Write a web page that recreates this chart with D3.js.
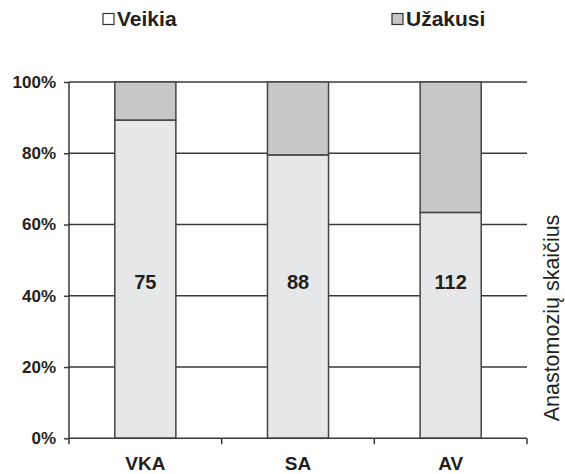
<!DOCTYPE html>
<html>
<head>
<meta charset="utf-8">
<script src="https://cdn.jsdelivr.net/npm/d3@7/dist/d3.min.js"></script>
<style>
  html, body { margin: 0; padding: 0; background: #fff; }
  text { font-family: "Liberation Sans", Arial, sans-serif; fill: #231f20; }
</style>
</head>
<body>
<svg id="chart" width="565" height="474"></svg>
<script>
// ---- data ----
const categories = ["VKA", "SA", "AV"];
const totals = [75, 88, 112];          // anastomoses per group (label)
const working = [67, 70, 71];          // "Veikia"
const blocked = [8, 18, 41];           // "Užakusi"
const yTicks = [0, 20, 40, 60, 80, 100];
const legendLabels = ["Veikia", "Užakusi"];
const axisTitle = "Anastomozių skaičius";

// ---- layout ----
const svg = d3.select("#chart");
const plotLeft = 69, plotRight = 527, plotTop = 82, plotBottom = 438.3;
const lineCol = "#3a3a3a";
const colWork = "#e6e7e8", colBlock = "#c6c7c9";

const x = d3.scaleBand().domain(categories).range([plotLeft, plotRight])
  .paddingInner(0.6).paddingOuter(0.3);
const y = d3.scaleLinear().domain([0, 100]).range([plotBottom, plotTop]);

const rows = categories.map((c, i) => ({
  cat: c, total: totals[i],
  w: working[i] / totals[i] * 100,
  b: blocked[i] / totals[i] * 100
}));

// gridlines
svg.append("g").selectAll("line").data(yTicks.filter(d => d > 0)).join("line")
  .attr("x1", plotLeft).attr("x2", plotRight)
  .attr("y1", d => y(d)).attr("y2", d => y(d))
  .attr("stroke", lineCol).attr("stroke-width", 1.5);

// y axis
const yAxis = svg.append("g").attr("transform", `translate(${plotLeft},0)`)
  .call(d3.axisLeft(y).tickValues(yTicks).tickFormat(d => d + "%").tickSize(5).tickPadding(8));
yAxis.select(".domain").remove();
yAxis.selectAll(".tick line").attr("stroke", lineCol).attr("stroke-width", 1.5);
yAxis.selectAll(".tick text").attr("font-size", 17).attr("font-weight", "bold")
  .attr("font-family", "Liberation Sans, Arial, sans-serif").attr("fill", "#231f20");
svg.append("line").attr("x1", plotLeft).attr("x2", plotLeft).attr("y1", plotTop).attr("y2", plotBottom + 6)
  .attr("stroke", lineCol).attr("stroke-width", 1.5);

// bars
const stack = d3.stack().keys(["w", "b"])(rows);
const colors = { w: colWork, b: colBlock };
stack.forEach(layer => {
  svg.append("g").selectAll("rect").data(layer).join("rect")
    .attr("x", d => x(d.data.cat))
    .attr("width", x.bandwidth())
    .attr("y", d => y(d[1]))
    .attr("height", d => y(d[0]) - y(d[1]))
    .attr("fill", colors[layer.key])
    .attr("stroke", "#444").attr("stroke-width", 1.5);
});

// value labels
svg.append("g").selectAll("text").data(rows).join("text")
  .attr("x", d => x(d.cat) + x.bandwidth() / 2)
  .attr("y", y(44) + 7)
  .attr("text-anchor", "middle")
  .attr("font-size", 20).attr("font-weight", "bold")
  .text(d => d.total);

// x axis
svg.append("line").attr("x1", plotLeft).attr("x2", plotRight).attr("y1", plotBottom).attr("y2", plotBottom)
  .attr("stroke", lineCol).attr("stroke-width", 1.5);
const step = x.step();
const xTickPos = d3.range(categories.length + 1).map(i => plotLeft + i * step);
svg.append("g").selectAll("line").data(xTickPos.slice(1)).join("line")
  .attr("x1", d => d).attr("x2", d => d).attr("y1", plotBottom).attr("y2", plotBottom + 6)
  .attr("stroke", lineCol).attr("stroke-width", 1.5);
svg.append("g").selectAll("text").data(categories).join("text")
  .attr("x", d => x(d) + x.bandwidth() / 2)
  .attr("y", 470)
  .attr("text-anchor", "middle")
  .attr("font-size", 19).attr("font-weight", "bold")
  .text(d => d);

// legend
const legendX = [103, 392];
const legendFill = ["#ffffff", colBlock];
legendLabels.forEach((lab, i) => {
  svg.append("rect").attr("x", legendX[i]).attr("y", 13.5).attr("width", 11).attr("height", 11)
    .attr("fill", legendFill[i]).attr("stroke", "#333").attr("stroke-width", 1.2);
  svg.append("text").attr("x", legendX[i] + 14).attr("y", 26)
    .attr("font-size", 21).attr("font-weight", "bold").text(lab);
});

// right axis title
svg.append("text")
  .attr("transform", `translate(559,318) rotate(-90)`)
  .attr("text-anchor", "middle")
  .attr("font-size", 21.5)
  .text(axisTitle);
</script>
</body>
</html>
